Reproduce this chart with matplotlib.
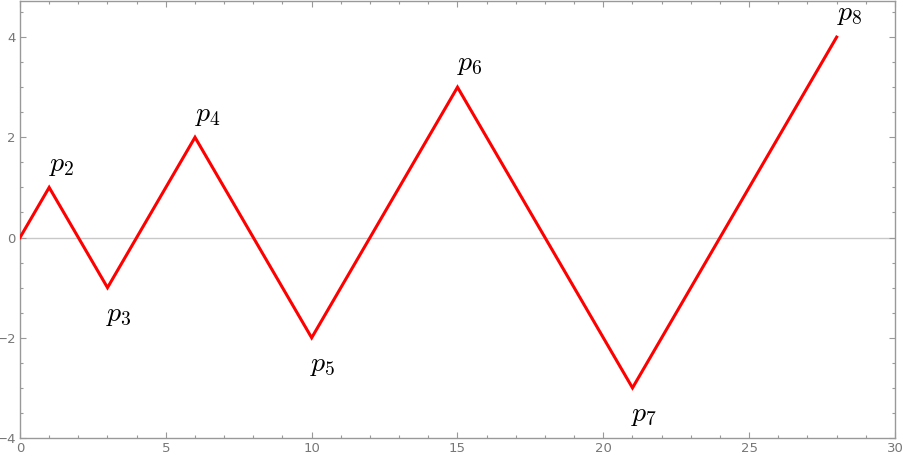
import numpy as np
import matplotlib
matplotlib.use("Agg")
import matplotlib.pyplot as plt
from matplotlib.ticker import MultipleLocator

# vertices of the zigzag path
xs = [0, 1, 3, 6, 10, 15, 21, 28]
ys = [0, 1, -1, 2, -2, 3, -3, 4]
labels = ["", "p_2", "p_3", "p_4", "p_5", "p_6", "p_7", "p_8"]

plt.rcParams['mathtext.fontset'] = 'cm'

fig = plt.figure(figsize=(9.03, 4.61), dpi=100)
ax = fig.add_axes([20/903, 23/461, 875/903, 437/461])

ax.axhline(0, color='#c8c8c8', lw=1.0, zorder=1)
ax.plot(xs, ys, color='#ff0000', lw=2.2, zorder=3, solid_joinstyle='miter')

for x, y, lab in zip(xs, ys, labels):
    if not lab:
        continue
    if y > 0:
        ax.annotate('$' + lab + '$', (x, y), xytext=(0, 7), textcoords='offset points',
                    ha='left', va='bottom', fontsize=20)
    else:
        ax.annotate('$' + lab + '$', (x, y), xytext=(-1, -9), textcoords='offset points',
                    ha='left', va='top', fontsize=20)

ax.set_xlim(0, 30)
ax.set_ylim(-4, 4.72)
ax.xaxis.set_major_locator(MultipleLocator(5))
ax.xaxis.set_minor_locator(MultipleLocator(1))
ax.yaxis.set_major_locator(MultipleLocator(2))
ax.yaxis.set_minor_locator(MultipleLocator(0.5))

for s in ax.spines.values():
    s.set_color('#999999')
    s.set_linewidth(1.0)
ax.tick_params(which='both', direction='in', top=True, right=True, colors='#999999',
               labelcolor='#777777', labelsize=9.5, width=0.8)
ax.tick_params(which='major', length=4, pad=3)
ax.tick_params(which='minor', length=2.5)

fig.savefig('out.png', dpi=100)
